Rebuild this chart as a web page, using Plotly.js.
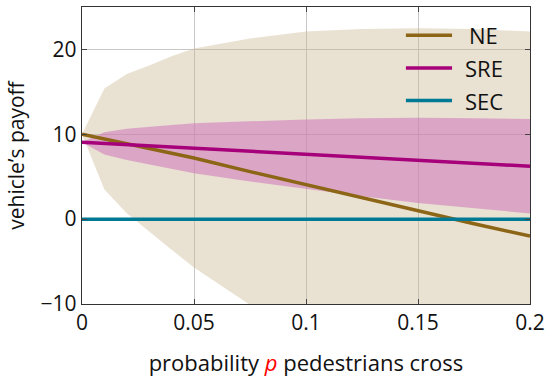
<!DOCTYPE html>
<html>
<head>
<meta charset="utf-8">
<script src="https://cdn.plot.ly/plotly-3.0.1.min.js"></script>
<style>html,body{margin:0;padding:0;background:#fff}</style>
</head>
<body>
<div id="chart" style="width:551px;height:378px"></div>
<script>
// probability p
const pVals = [0, 0.01, 0.02, 0.03, 0.04, 0.05, 0.075, 0.1, 0.125, 0.15, 0.175, 0.2];
// NE payoff mean and band
const neMean  = [10, 9.45, 8.9, 8.35, 7.8, 7.2, 5.6, 4.05, 2.45, 0.9, -0.55, -2.0];
const neUpper = [10, 15.4, 17.1, 18.1, 19.2, 20.1, 21.3, 22.1, 22.4, 22.5, 22.4, 22.1];
const neLower = [10, 3.5, 0.7, -1.4, -3.6, -5.7, -10.1, -14.0, -17.5, -20.7, -23.5, -26.1];
// SRE payoff mean and band
const sreMean  = [9.07, 8.93, 8.8, 8.65, 8.5, 8.36, 8.0, 7.65, 7.3, 6.94, 6.6, 6.23];
const sreUpper = [9.07, 10.23, 10.64, 10.9, 11.1, 11.31, 11.55, 11.75, 11.9, 11.95, 11.9, 11.8];
const sreLower = [9.07, 7.63, 6.96, 6.4, 5.9, 5.41, 4.45, 3.55, 2.7, 1.89, 1.25, 0.67];
// SEC payoff
const secMean = [0, 0, 0, 0, 0, 0, 0, 0, 0, 0, 0, 0];
const seriesNames = ['NE', 'SRE', 'SEC'];
const seriesColors = ['#8c6516', '#a6007a', '#007a94'];
const xTicks = [0, 0.05, 0.1, 0.15, 0.2];
const xTickText = ["0", "0.05", "0.1", "0.15", "0.2"];
const yTicks = [-10, 0, 10, 20];
const yTickText = ["\u221210", "0", "10", "20"];

const band = (up, lo, fill) => ({
  x: pVals.concat(pVals.slice().reverse()),
  y: up.concat(lo.slice().reverse()),
  type: 'scatter', mode: 'lines', fill: 'toself', fillcolor: fill,
  line: {width: 0}, showlegend: false, hoverinfo: 'skip'
});

const means = [neMean, sreMean, secMean];
const data = [
  band(neUpper, neLower, 'rgba(200,180,140,0.4)'),
  band(sreUpper, sreLower, 'rgba(206,108,188,0.5)')
].concat(means.map((m, i) => ({
  x: pVals, y: m, type: 'scatter', mode: 'lines', name: seriesNames[i],
  line: {color: seriesColors[i], width: 3.5}, showlegend: false
})));

// hand-drawn legend (long sample lines, centred labels)
const legRowsY = [0.905, 0.795, 0.685];
const shapes = legRowsY.map((yy, i) => ({
  type: 'line', xref: 'paper', yref: 'paper', x0: 0.723, x1: 0.826, y0: yy, y1: yy,
  line: {color: seriesColors[i], width: 3.5}
}));
const fam = '"Open Sans", "DejaVu Sans", sans-serif';
const annotations = legRowsY.map((yy, i) => ({
  xref: 'paper', yref: 'paper', x: 0.897, y: yy, xanchor: 'center', yanchor: 'middle',
  text: seriesNames[i], showarrow: false, font: {size: 22, family: fam, color: '#111'}
}));

const layout = {
  width: 551, height: 378,
  margin: {l: 82, r: 21, t: 7, b: 74},
  paper_bgcolor: '#fff', plot_bgcolor: '#fff',
  font: {size: 21, family: fam, color: '#111'},
  showlegend: false,
  shapes: shapes, annotations: annotations,
  xaxis: {
    range: [0, 0.2], tickvals: xTicks, ticktext: xTickText,
    showgrid: true, gridcolor: '#c8c8c8', gridwidth: 1,
    showline: true, linecolor: '#333', linewidth: 1.2, mirror: 'allticks',
    ticks: 'inside', ticklen: 5, tickcolor: '#444', zeroline: false,
    tickfont: {size: 21, family: fam, color: '#111'},
    title: {text: 'probability <i><span style="color:#ff0000">p</span></i> pedestrians cross',
            font: {size: 22, family: fam, color: '#111'}, standoff: 20}
  },
  yaxis: {
    range: [-10, 25], tickvals: yTicks, ticktext: yTickText,
    showgrid: true, gridcolor: '#c8c8c8', gridwidth: 1,
    showline: true, linecolor: '#333', linewidth: 1.2, mirror: 'allticks',
    ticks: 'inside', ticklen: 5, tickcolor: '#444', zeroline: false,
    tickfont: {size: 21, family: fam, color: '#111'},
    title: {text: 'vehicle\u2019s payoff', font: {size: 21, family: fam, color: '#111'}, standoff: 10}
  }
};

Plotly.newPlot('chart', data, layout, {displayModeBar: false, staticPlot: true});
</script>
</body>
</html>
